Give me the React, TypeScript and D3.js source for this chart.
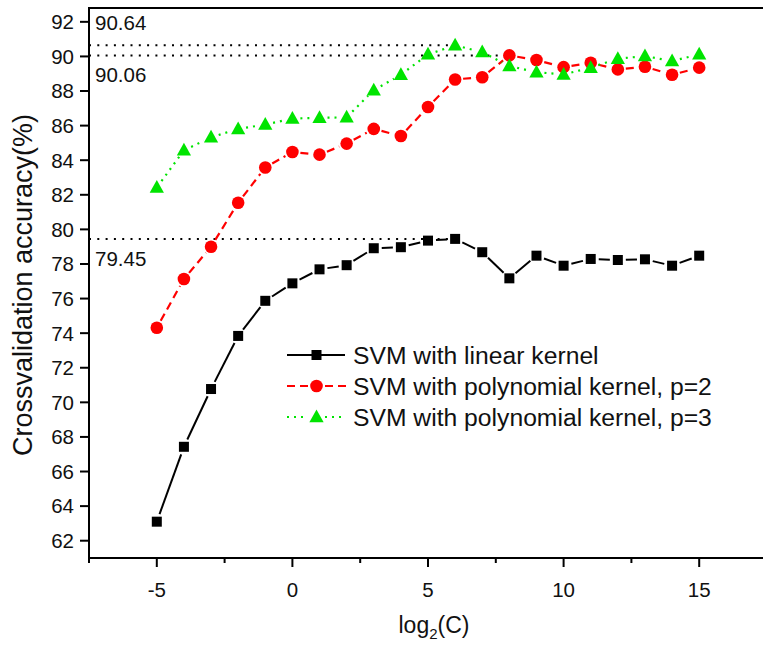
import React from "react";
import * as d3 from "d3";

const logC = [-5, -4, -3, -2, -1, 0, 1, 2, 3, 4, 5, 6, 7, 8, 9, 10, 11, 12, 13, 14, 15];
const linearKernel = [63.1, 67.43, 70.77, 73.84, 75.87, 76.88, 77.69, 77.93, 78.91, 78.97, 79.35, 79.45, 78.68, 77.17, 78.48, 77.9, 78.29, 78.23, 78.27, 77.9, 78.48];
const poly2Kernel = [74.31, 77.13, 79.0, 81.54, 83.58, 84.47, 84.32, 84.96, 85.81, 85.4, 87.08, 88.67, 88.8, 90.06, 89.79, 89.38, 89.63, 89.25, 89.4, 88.94, 89.35];
const poly3Kernel = [82.42, 84.57, 85.32, 85.81, 86.06, 86.41, 86.45, 86.48, 88.05, 88.94, 90.12, 90.64, 90.25, 89.44, 89.09, 88.96, 89.35, 89.87, 90.02, 89.73, 90.12];
const yTicks = [62, 64, 66, 68, 70, 72, 74, 76, 78, 80, 82, 84, 86, 88, 90, 92];
const xTicks = [-5, 0, 5, 10, 15];
const xMinorTicks = [-7.5, -2.5, 2.5, 7.5, 12.5, 17.5];
const seriesNames = ["SVM with linear kernel", "SVM with polynomial kernel, p=2", "SVM with polynomial kernel, p=3"];
const refLines = [
  { value: 90.64, label: "90.64", until: 6, labelAbove: true },
  { value: 90.06, label: "90.06", until: 8, labelAbove: false },
  { value: 79.45, label: "79.45", until: 6, labelAbove: false },
];

const W = 763;
const H = 647;
const FONT = "'Liberation Sans', Arial, sans-serif";

const x = d3.scaleLinear().domain([-7.5, 17.5]).range([89, 767]);
const y = d3.scaleLinear().domain([61, 92.8]).range([558, 8]);

type Pt = [number, number];

function segments(pts: Pt[], gap: number) {
  const segs: [Pt, Pt][] = [];
  for (let i = 0; i < pts.length - 1; i++) {
    const [x1, y1] = pts[i];
    const [x2, y2] = pts[i + 1];
    const dx = x2 - x1, dy = y2 - y1;
    const len = Math.hypot(dx, dy);
    if (len <= gap * 2 + 1) continue;
    const ux = dx / len, uy = dy / len;
    segs.push([[x1 + ux * gap, y1 + uy * gap], [x2 - ux * gap, y2 - uy * gap]]);
  }
  return segs;
}

function Marker({ kind, cx, cy, color }: { kind: string; cx: number; cy: number; color: string }) {
  if (kind === "square") return <rect x={cx - 5} y={cy - 5} width={10} height={10} fill={color} />;
  if (kind === "circle") return <circle cx={cx} cy={cy} r={6.3} fill={color} />;
  const s = 7.5;
  const p = d3.path();
  p.moveTo(cx, cy - s);
  p.lineTo(cx + s * 0.95, cy + s * 0.7);
  p.lineTo(cx - s * 0.95, cy + s * 0.7);
  p.closePath();
  return <path d={p.toString()} fill={color} />;
}

const series = [
  { name: seriesNames[0], values: linearKernel, color: "#000000", kind: "square", dash: "none", width: 2 },
  { name: seriesNames[1], values: poly2Kernel, color: "#ff0000", kind: "circle", dash: "8,5", width: 2.2 },
  { name: seriesNames[2], values: poly3Kernel, color: "#00e400", kind: "triangle", dash: "2,5", width: 2.2 },
];

export default function App() {
  const line = d3.line<Pt>().x((d) => d[0]).y((d) => d[1]);
  return (
    <svg width={W} height={H} style={{ position: "absolute", left: 0, top: 0, background: "#fff" }} fontFamily={FONT}>
      <rect width={W} height={H} fill="#fff" />
      {refLines.map((r) => (
        <line key={r.label} x1={x(-7.5)} x2={x(r.until) - 6} y1={y(r.value)} y2={y(r.value)} stroke="#000" strokeWidth={2} strokeDasharray="2,6.3" />
      ))}
      {refLines.map((r) => (
        <text key={"t" + r.label} x={95} y={r.labelAbove ? y(r.value) - 15 : y(r.value) + 27} fontSize={20.5} fill="#111">
          {r.label}
        </text>
      ))}
      {series.map((s) => {
        const pts: Pt[] = s.values.map((v, i) => [x(logC[i]), y(v)]);
        return (
          <g key={s.name}>
            {segments(pts, 8).map((sg, i) => (
              <path key={i} d={line(sg) || ""} stroke={s.color} strokeWidth={s.width} fill="none" strokeDasharray={s.dash} />
            ))}
            {pts.map((p, i) => (
              <Marker key={i} kind={s.kind} cx={p[0]} cy={p[1]} color={s.color} />
            ))}
          </g>
        );
      })}
      <line x1={x(-7.5)} x2={W} y1={y(92.8)} y2={y(92.8)} stroke="#000" strokeWidth={2} />
      <line x1={x(-7.5)} x2={W} y1={y(61)} y2={y(61)} stroke="#000" strokeWidth={2} />
      <line x1={x(-7.5)} x2={x(-7.5)} y1={y(92.8) - 1} y2={y(61) + 1} stroke="#000" strokeWidth={2} />
      {yTicks.map((t) => (
        <g key={"y" + t}>
          <line x1={x(-7.5) - 9} x2={x(-7.5)} y1={y(t)} y2={y(t)} stroke="#000" strokeWidth={2} />
          <text x={74} y={y(t)} dy="0.36em" textAnchor="end" fontSize={20.5} fill="#111">
            {t}
          </text>
        </g>
      ))}
      {xTicks.map((t) => (
        <g key={"x" + t}>
          <line x1={x(t)} x2={x(t)} y1={y(61)} y2={y(61) + 9} stroke="#000" strokeWidth={2} />
          <text x={x(t)} y={597} textAnchor="middle" fontSize={20.5} fill="#111">
            {t}
          </text>
        </g>
      ))}
      {xMinorTicks.map((t) => (
        <line key={"m" + t} x1={x(t)} x2={x(t)} y1={y(61)} y2={y(61) + 5} stroke="#000" strokeWidth={2} />
      ))}
      <text x={434} y={633} textAnchor="middle" fontSize={23} fill="#111">
        log<tspan fontSize={15} dy={6}>2</tspan>
        <tspan dy={-6}>(C)</tspan>
      </text>
      <text transform={`translate(32,${285}) rotate(-90)`} textAnchor="middle" fontSize={27} fill="#111">
        Crossvalidation accuracy(%)
      </text>
      {series.map((s, i) => {
        const ly = 355 + i * 31;
        return (
          <g key={"leg" + i}>
            {s.kind === "square" ? (
              <line x1={287} x2={345} y1={ly} y2={ly} stroke={s.color} strokeWidth={s.width} />
            ) : (
              <>
                <line x1={287} x2={308} y1={ly} y2={ly} stroke={s.color} strokeWidth={s.width} strokeDasharray={s.dash} />
                <line x1={325} x2={346} y1={ly} y2={ly} stroke={s.color} strokeWidth={s.width} strokeDasharray={s.dash} />
              </>
            )}
            <Marker kind={s.kind} cx={316.5} cy={ly} color={s.color} />
            <text x={353} y={ly} dy="0.36em" fontSize={24.7} fill="#111">
              {s.name}
            </text>
          </g>
        );
      })}
    </svg>
  );
}
